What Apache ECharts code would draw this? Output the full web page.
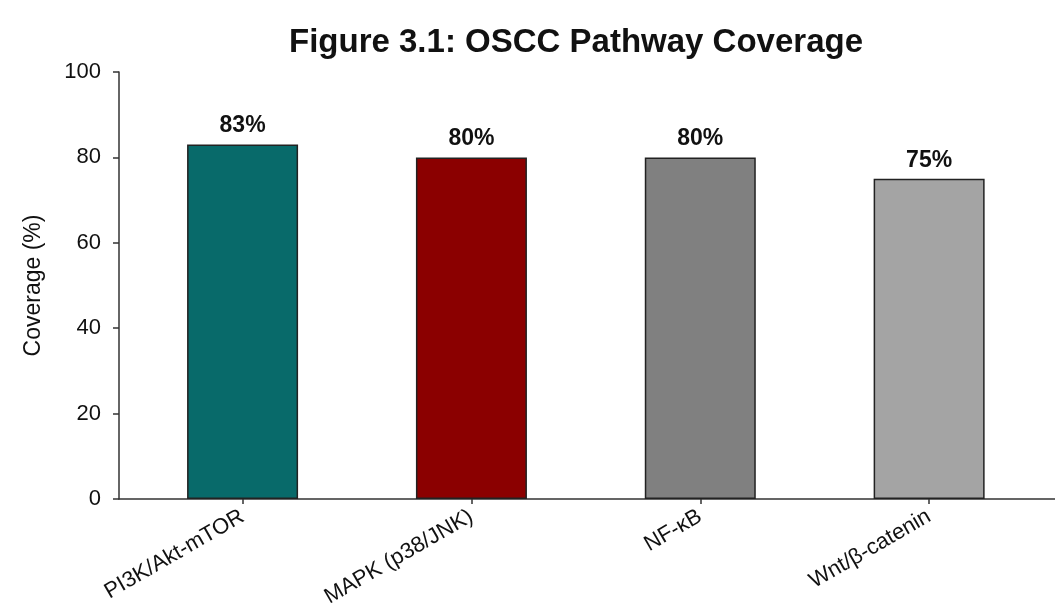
<!DOCTYPE html>
<html>
<head>
<meta charset="utf-8">
<title>OSCC Pathway Coverage</title>
<script src="https://cdn.jsdelivr.net/npm/echarts@6/dist/echarts.min.js"></script>
<style>
  html, body { margin: 0; padding: 0; background: #ffffff; }
  #chart { width: 1055px; height: 615px; }
</style>
</head>
<body>
<div id="chart"></div>
<script>
// Pathways and their coverage (%)
const categories = ['PI3K/Akt-mTOR', 'MAPK (p38/JNK)', 'NF-κB', 'Wnt/β-catenin'];
const coverage = [83, 80, 80, 75];
const barColors = ['#086a6a', '#8b0000', '#808080', '#a4a4a4'];
const yTicks = [0, 20, 40, 60, 80, 100];

const positions = categories.map((_, i) => i);
const FONT = '"Liberation Sans", Arial, Helvetica, sans-serif';

const chart = echarts.init(document.getElementById('chart'), null, { renderer: 'canvas' });

chart.setOption({
  backgroundColor: '#ffffff',
  animation: false,
  title: {
    text: 'Figure 3.1: OSCC Pathway Coverage',
    left: 571,
    top: 21,
    textAlign: 'center',
    textStyle: { fontFamily: FONT, fontSize: 33, fontWeight: 'bold', color: '#111' }
  },
  grid: { left: 119, right: 0, top: 72, bottom: 116, containLabel: false },
  xAxis: {
    type: 'value',
    min: -0.54,
    max: 3.55,
    splitLine: { show: false },
    axisLine: { show: true, onZero: false, lineStyle: { color: '#333', width: 1.5 } },
    axisTick: { show: true, customValues: positions, length: 5, lineStyle: { color: '#333', width: 1.5 } },
    axisLabel: {
      customValues: positions,
      formatter: v => categories[Math.round(v)],
      rotate: 30,
      margin: 16,
      fontFamily: FONT,
      fontSize: 22,
      color: '#111'
    }
  },
  yAxis: {
    type: 'value',
    min: yTicks[0],
    max: yTicks[yTicks.length - 1],
    interval: yTicks[1] - yTicks[0],
    name: 'Coverage (%)',
    nameLocation: 'middle',
    nameGap: 74,
    nameTextStyle: { fontFamily: FONT, fontSize: 23, color: '#111' },
    splitLine: { show: false },
    axisLine: { show: true, onZero: false, lineStyle: { color: '#333', width: 1.5 } },
    axisTick: { show: true, length: 6, lineStyle: { color: '#333', width: 1.5 } },
    axisLabel: { fontFamily: FONT, fontSize: 22, color: '#111', margin: 18 }
  },
  series: [{
    type: 'bar',
    barWidth: 111,
    data: coverage.map((v, i) => ({
      value: [positions[i], v],
      itemStyle: { color: barColors[i], borderColor: '#222', borderWidth: 1.5 }
    })),
    label: {
      show: true,
      position: 'top',
      distance: 7,
      formatter: p => p.value[1] + '%',
      fontFamily: FONT,
      fontSize: 23,
      fontWeight: 'bold',
      color: '#111'
    }
  }]
});
</script>
</body>
</html>
